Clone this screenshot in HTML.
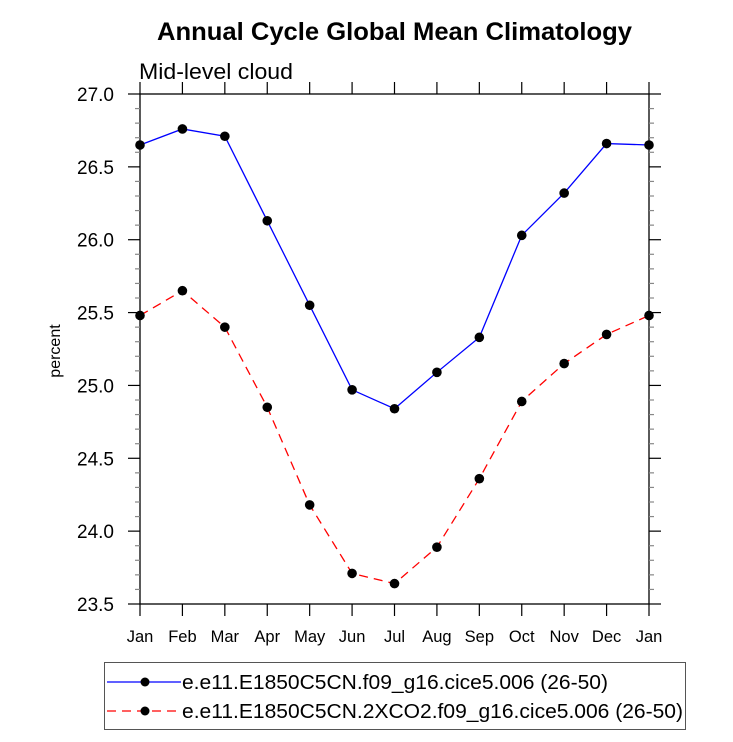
<!DOCTYPE html>
<html><head><meta charset="utf-8"><style>
body{margin:0;background:#fff;}
svg text{font-family:"Liberation Sans",Arial,sans-serif;fill:#000;}
</style></head><body>
<svg id="chart" width="733" height="737" xmlns="http://www.w3.org/2000/svg">
<text x="157" y="40" font-size="25" font-weight="bold" textLength="475" lengthAdjust="spacingAndGlyphs">Annual Cycle Global Mean Climatology</text>
<text x="139" y="79" font-size="22" textLength="154" lengthAdjust="spacingAndGlyphs">Mid-level cloud</text>
<text transform="translate(60,351) rotate(-90)" font-size="16" text-anchor="middle">percent</text>
<g id="axes"></g>
<g id="series"></g>
<g>
<rect x="104.5" y="662.5" width="581" height="67" fill="none" stroke="#555" stroke-width="1"/>
<line x1="107" y1="682" x2="181" y2="682" stroke="#0000ff" stroke-width="1.2"/>
<circle cx="145" cy="682" r="4.5" fill="#000"/>
<text x="182" y="689" font-size="20" textLength="426" lengthAdjust="spacingAndGlyphs">e.e11.E1850C5CN.f09_g16.cice5.006 (26-50)</text>
<line x1="107" y1="711" x2="181" y2="711" stroke="#ff0000" stroke-width="1.2" stroke-dasharray="9,6"/>
<circle cx="145" cy="711" r="4.5" fill="#000"/>
<text x="182" y="718" font-size="20" textLength="501" lengthAdjust="spacingAndGlyphs">e.e11.E1850C5CN.2XCO2.f09_g16.cice5.006 (26-50)</text>
</g>
</svg>
<script>
const months = ["Jan","Feb","Mar","Apr","May","Jun","Jul","Aug","Sep","Oct","Nov","Dec","Jan"];
const controlValues = [26.65,26.76,26.71,26.13,25.55,24.97,24.84,25.09,25.33,26.03,26.32,26.66,26.65];
const co2Values = [25.48,25.65,25.40,24.85,24.18,23.71,23.64,23.89,24.36,24.89,25.15,25.35,25.48];
const yTicks = ["23.5","24.0","24.5","25.0","25.5","26.0","26.5","27.0"];

const L=140,R=649,T=94,B=604,ymin=23.5,ymax=27.0;
const NS="http://www.w3.org/2000/svg";
const xs=i=>L+(R-L)*i/(months.length-1);
const ys=v=>B-(B-T)*(v-ymin)/(ymax-ymin);
const axes=document.getElementById('axes'), ser=document.getElementById('series');
function mk(tag,attrs,parent){const e=document.createElementNS(NS,tag);for(const k in attrs)e.setAttribute(k,attrs[k]);parent.appendChild(e);return e;}

const frame=mk('rect',{x:L,y:T,width:R-L,height:B-T,fill:'none',stroke:'#000','stroke-width':1.3},axes);


months.forEach((m,i)=>{
  const x=xs(i);
  mk('line',{x1:x,y1:B,x2:x,y2:B+12,stroke:'#000','stroke-width':1.2},axes);
  mk('line',{x1:x,y1:T,x2:x,y2:T-12,stroke:'#000','stroke-width':1.2},axes);
  const t=mk('text',{x:x,y:642,'font-size':16.5,'text-anchor':'middle'},axes);
  t.textContent=m;
  
  
});
for(let k=0;k<=35;k++){
  const v=ymin+k*0.1, y=ys(v), major=k%5===0;
  const len=major?12:5, col=major?'#000':'#888';
  mk('line',{x1:L,y1:y,x2:L-len,y2:y,stroke:col,'stroke-width':1.2},axes);
  mk('line',{x1:R,y1:y,x2:R+len,y2:y,stroke:col,'stroke-width':1.2},axes);
}
yTicks.forEach(s=>{
  const t=mk('text',{x:114,y:ys(parseFloat(s))+7,'font-size':19,'text-anchor':'end'},axes);
  t.textContent=s;
  
  
});
function draw(vals,color,dash,name){
  const p=mk('polyline',{points:vals.map((v,i)=>xs(i)+','+ys(v)).join(' '),fill:'none',stroke:color,'stroke-width':1.3,'stroke-dasharray':dash},ser);
  
  
  vals.forEach((v,i)=>{
    const c=mk('circle',{cx:xs(i),cy:ys(v),r:4.8,fill:'#000'},ser);
    
    
  });
}
draw(controlValues,'#0000ff','none','control');
draw(co2Values,'#ff0000','9,6','2xco2');
</script>
</body></html>
